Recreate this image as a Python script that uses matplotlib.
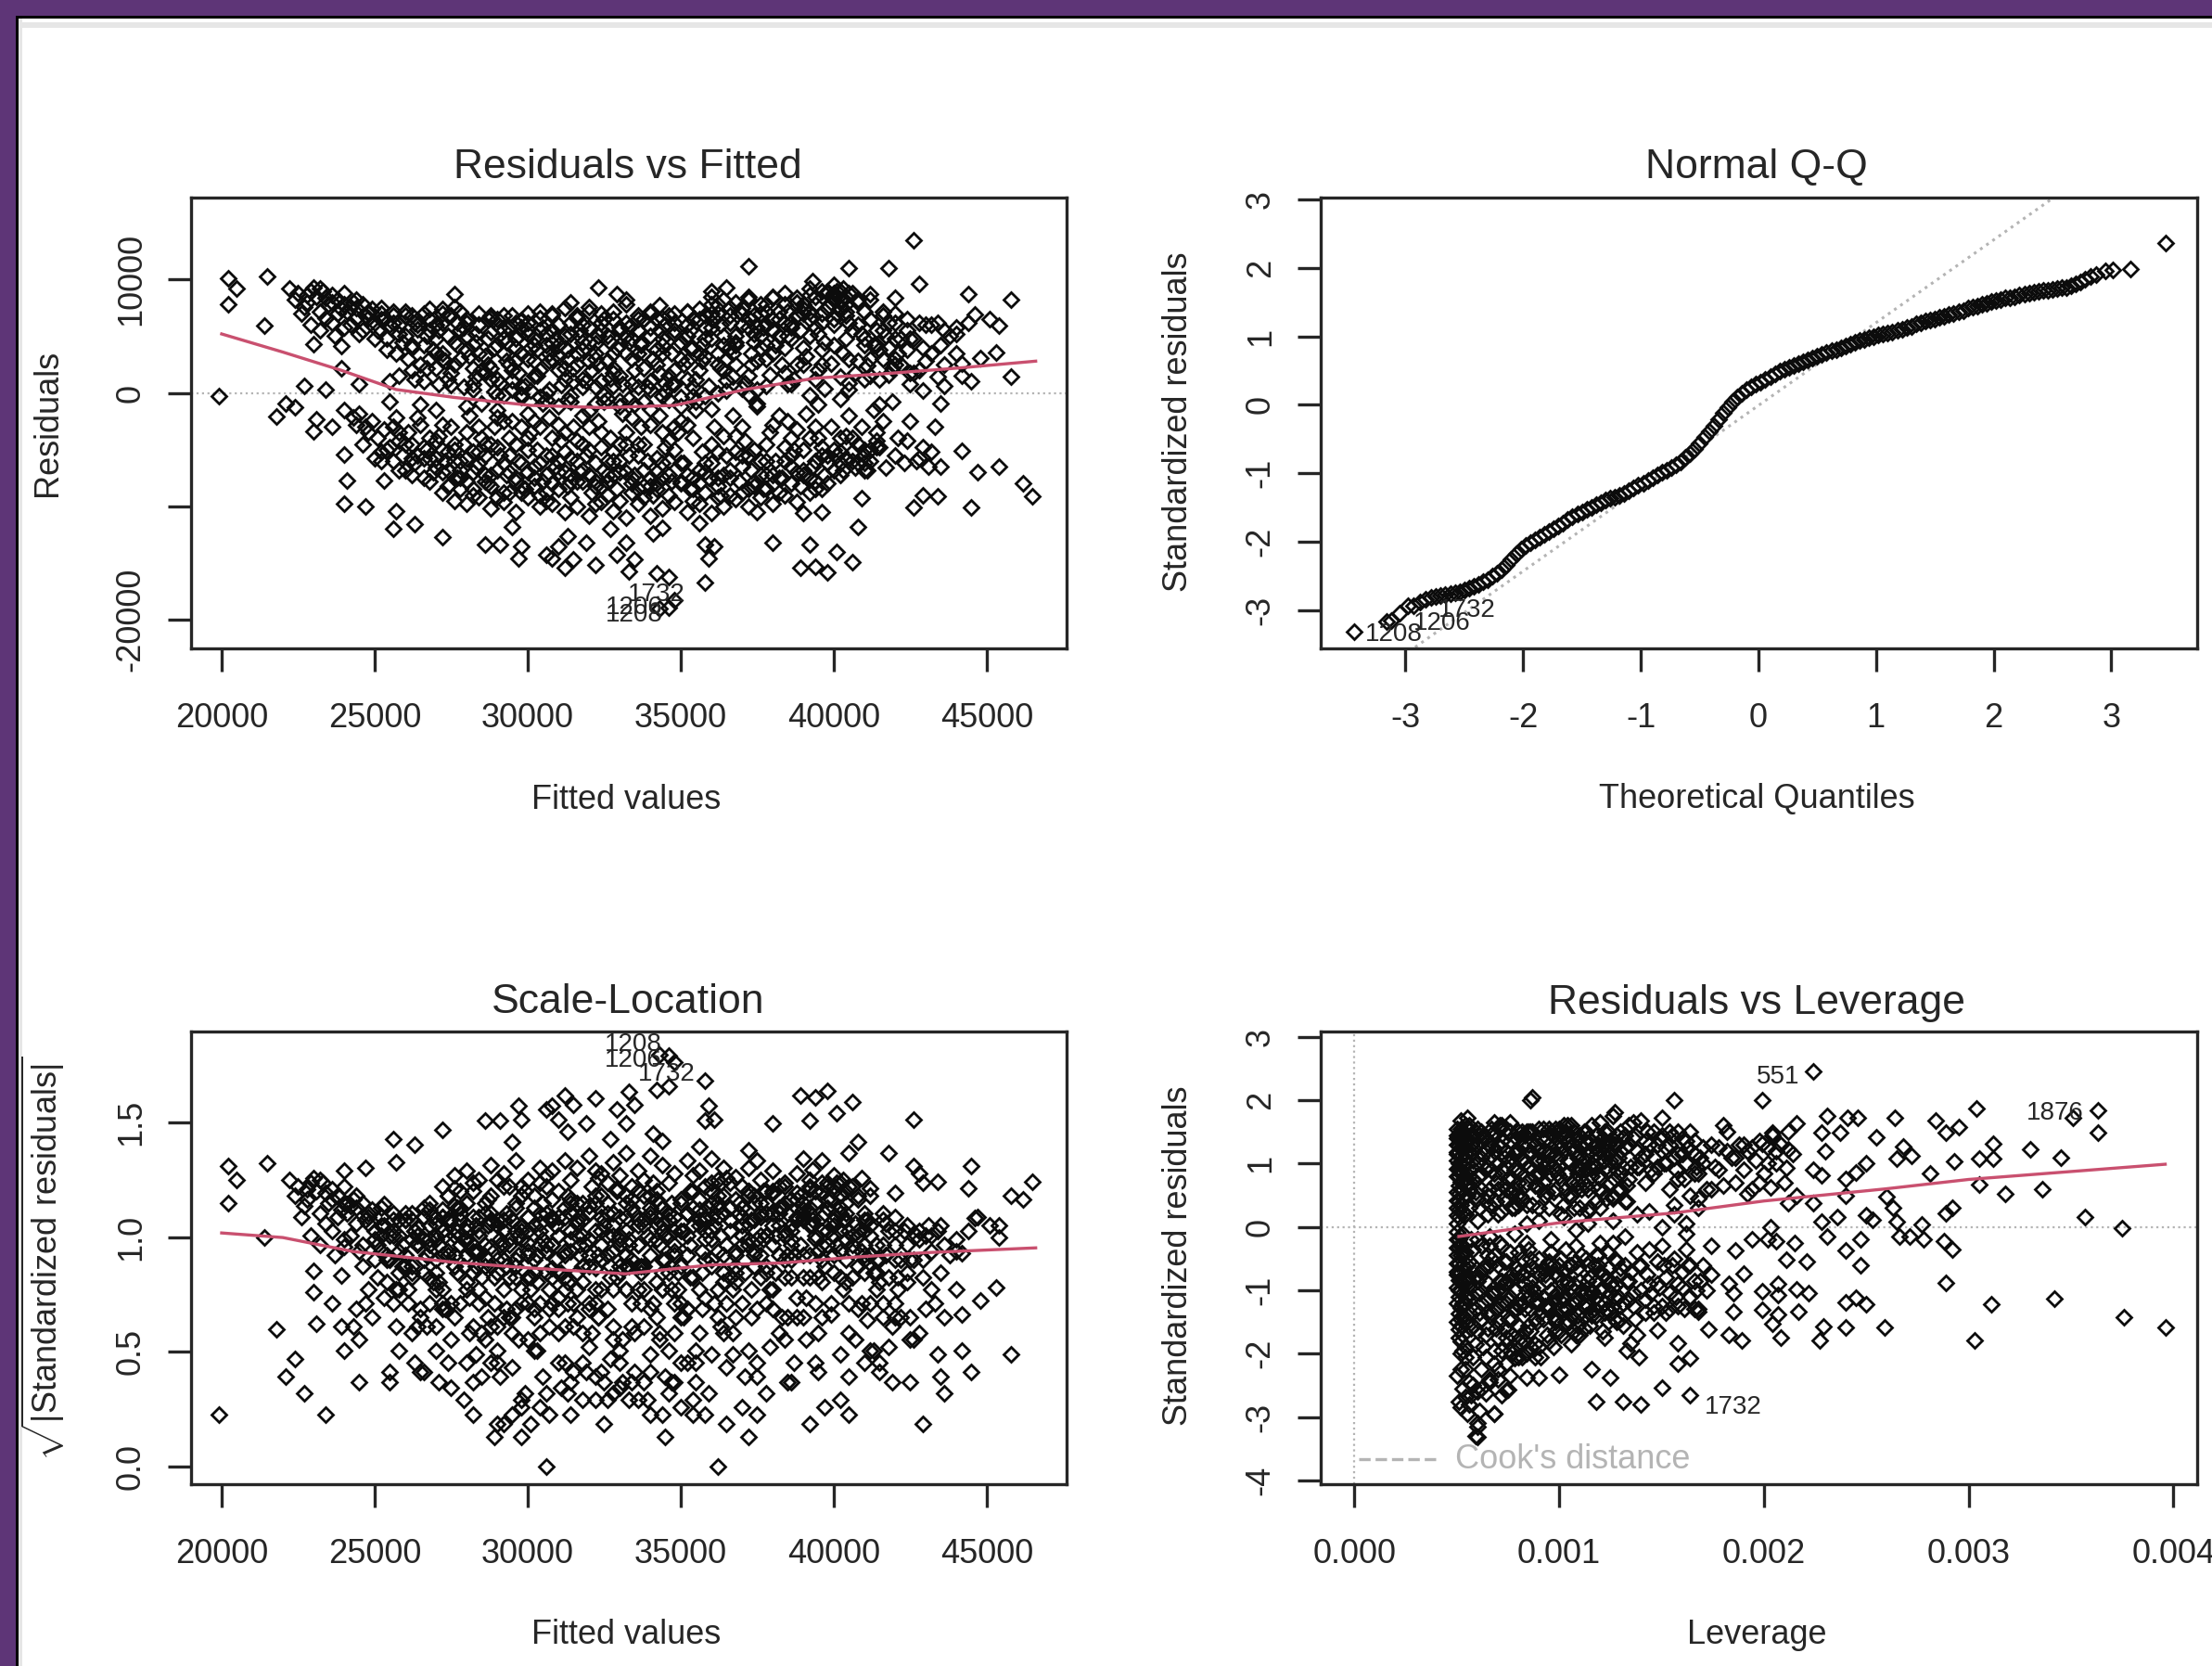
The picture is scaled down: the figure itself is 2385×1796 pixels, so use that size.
import numpy as np
import matplotlib
matplotlib.use('Agg')
import matplotlib.pyplot as plt
from matplotlib.patches import Rectangle

plt.rcParams['font.family'] = ['Liberation Sans', 'DejaVu Sans']
plt.rcParams['mathtext.fontset'] = 'custom'
plt.rcParams['mathtext.rm'] = 'Liberation Sans'

W, H = 2385, 1796

# fitted values and residuals, both in hundreds
fitted = [
    # scattered points read one by one
    202,205,202,214,215,199,426,372,405,418,428,444,458,454,451,446,453,448,442,458,436,429,420,412,323,329,314,343,276,365,360,393,
    442,447,454,462,465,445,434,429,426,409,408,396,390,380,392,401,406,389,394,398,356,358,361,359,358,346,342,327,332,329,335,333,
    319,313,310,306,308,315,312,322,298,297,291,286,295,272,256,263,257,240,247,253,241,240,341,344,375,218,221,224,227,230,231,234,236,230,239,239,245,255,
    346,343,348,
    # upper band
    222,225,228,230,231,233,235,236,238,240,241,243,244,246,247,249,250,252,253,255,
    226,229,232,234,237,239,242,245,248,251,254,256,258,260,262,264,266,268,270,272,
    257,259,261,263,265,267,269,271,273,275,277,279,281,283,285,287,289,291,293,295,
    258,262,266,270,274,278,282,286,290,294,298,302,306,310,314,318,322,326,330,334,
    296,298,300,302,304,306,308,310,312,314,316,318,320,322,324,326,328,330,332,334,
    336,338,340,342,344,346,348,350,352,354,356,358,360,362,364,366,368,370,372,374,
    376,378,380,382,384,386,388,390,392,394,396,398,400,402,404,406,408,410,412,414,
    416,418,420,422,424,426,428,430,432,434,436,438,440,442,444,336,340,344,348,352,
    270,274,278,283,288,292,297,301,305,309,313,317,321,325,329,333,337,341,345,349,
    353,357,361,365,369,373,377,381,385,389,393,397,401,405,409,413,417,421,425,429,
    262,268,272,276,280,284,288,292,296,300,304,308,312,316,320,324,328,332,336,340,
    344,348,352,356,360,364,368,372,376,380,384,388,392,396,400,404,408,412,416,420,
    400,401,402,403,404,405,399,398,396,394,392,390,386,382,378,374,370,366,362,358,
    284,288,293,298,303,308,313,318,323,328,333,338,343,348,353,358,363,368,373,378,
    224,227,229,232,234,236,238,240,242,244,246,248,250,252,254,256,258,260,262,264,
    266,268,270,272,274,276,278,280,282,284,286,288,290,292,294,296,298,300,302,304,
    306,308,310,312,314,316,318,320,322,324,326,328,330,332,334,336,338,340,342,344,
    346,348,350,352,354,356,358,360,362,364,366,368,370,372,374,376,378,380,382,384,
    386,388,390,392,394,396,398,400,402,404,406,408,410,412,414,416,418,420,422,424,
    263,267,271,275,279,283,287,291,295,299,303,307,311,315,319,323,327,331,335,339,
    343,347,351,355,359,363,367,371,375,379,383,387,391,395,399,403,407,411,415,419,
    272,277,282,287,292,297,302,307,312,317,322,327,332,337,342,347,352,357,362,367,
    375,380,385,390,395,400,405,410,415,420,425,430,435,440,280,290,300,310,320,330,
    # lower band
    240,243,245,247,249,251,253,255,257,259,261,263,265,267,269,271,273,275,277,279,
    281,283,285,287,289,291,293,295,297,299,301,303,305,307,309,311,313,315,317,319,
    321,323,325,327,329,331,333,335,337,339,341,343,345,347,349,351,353,355,357,359,
    361,363,365,367,369,371,373,375,377,379,381,383,385,387,389,391,393,395,397,399,
    401,403,405,407,409,411,413,415,417,419,421,423,425,427,429,431,433,435,246,252,
    258,262,266,270,274,278,282,286,290,294,298,302,306,310,314,318,322,326,330,334,
    338,342,346,350,354,358,362,366,370,374,378,382,386,390,394,398,402,406,410,414,
    268,272,276,280,284,288,292,296,300,304,308,312,316,320,324,328,332,336,340,344,
    244,248,252,256,260,264,268,272,276,280,284,288,292,296,300,304,308,312,316,320,
    324,328,332,336,340,344,348,352,356,360,364,368,372,376,380,384,388,392,396,400,
    404,408,412,416,420,424,428,432,256,260,264,268,272,276,280,284,288,292,296,300,
    304,308,312,316,320,324,328,332,336,340,344,348,352,356,360,364,368,372,376,380,
    384,388,392,396,400,404,408,412,250,254,258,262,266,270,274,278,282,286,290,294,
    298,302,306,310,314,318,322,326,330,334,338,342,346,350,354,358,362,366,370,374,
    378,382,386,390,394,398,402,406,410,414,270,280,290,300,310,320,330,340,350,360,
    # near zero
    255,265,275,285,295,305,315,325,335,345,355,365,375,385,395,405,415,425,435,445,
    289,292,295,298,301,304,307,313,318,325,328,333,340,345,350,354,358,365,372,375,392,397,402,405,
]
residuals = [
    101,92,78,59,103,-3,135,112,110,110,96,87,82,59,65,69,36,31,26,14,6,2,84,87,93,87,80,77,87,93,90,99,
    -51,-70,-65,-80,-91,-101,-91,-90,-101,-93,-118,-105,-106,-132,-134,-140,-149,-154,-153,-158,-115,-134,-135,-146,-167,-162,-159,-120,-132,-143,-147,-157,
    -132,-126,-135,-143,-146,-147,-154,-152,-135,-146,-134,-134,-118,-127,-120,-116,-104,-98,-100,-77,-77,-54,-124,-119,-105,-21,-9,-13,6,-34,-23,3,-30,43,41,22,8,10,
    -189,-190,-183,
    92,88,80,93,85,90,78,86,82,88,72,80,75,78,68,74,62,70,65,60,
    70,60,55,66,50,74,60,52,66,55,48,72,60,50,68,56,42,65,48,74,
    35,45,30,62,25,50,38,55,28,68,42,58,32,52,20,65,40,58,28,68,
    15,20,10,22,12,30,8,18,12,25,5,15,0,20,-3,12,5,-5,15,8,
    48,35,62,28,55,42,68,32,50,62,25,45,72,35,55,28,65,42,78,30,
    55,22,70,38,48,15,62,30,72,40,20,58,85,35,50,75,25,60,82,45,
    70,30,85,50,18,62,80,40,92,58,25,75,95,90,48,88,60,72,30,55,
    68,40,62,25,55,48,20,60,35,62,25,50,58,15,62,5,10,-3,8,12,
    60,50,72,45,68,35,50,40,58,48,38,55,20,65,40,58,45,30,60,42,
    55,42,65,30,72,35,58,42,72,55,68,45,70,30,52,42,50,35,18,40,
    40,30,35,25,50,60,22,48,28,52,20,30,12,35,45,10,22,50,35,50,
    35,52,28,65,48,20,42,15,50,65,40,25,72,38,60,72,28,15,30,48,
    85,90,82,92,78,88,80,88,70,78,65,70,58,72,60,52,70,40,70,32,
    35,12,45,58,38,55,30,60,50,18,45,65,55,20,40,48,60,45,25,42,
    82,76,90,72,84,62,70,58,76,66,55,70,48,65,38,62,52,68,42,60,
    70,55,35,62,68,45,55,65,42,60,32,54,65,48,58,40,64,56,48,66,
    52,44,60,40,52,68,38,58,44,62,50,35,55,62,48,65,35,58,66,42,
    68,55,45,60,65,35,68,58,78,42,62,50,75,58,68,40,78,55,65,78,
    48,68,78,50,85,62,90,65,75,68,55,82,48,65,42,55,62,30,48,38,
    12,22,8,18,5,14,25,9,20,6,15,28,7,22,10,25,13,8,20,5,
    18,8,25,12,6,22,14,9,28,16,25,12,32,20,26,35,18,24,12,22,
    30,62,22,48,55,18,42,35,22,50,30,45,35,42,25,35,50,28,25,35,
    58,35,50,25,52,42,62,42,38,25,48,28,42,35,38,42,30,42,28,58,
    -15,-22,-18,-30,-25,-40,-32,-48,-22,-55,-35,-62,-28,-50,-70,-38,-60,-30,-75,-45,
    -20,-65,-40,-80,-30,-55,-72,-25,-60,-85,-35,-50,-78,-22,-65,-42,-82,-30,-70,-55,
    -88,-25,-68,-40,-85,-18,-55,-72,-30,-60,-90,-20,-48,-78,-35,-62,-85,-15,-52,-75,
    -30,-90,-55,-20,-78,-42,-68,-12,-85,-35,-60,-75,-25,-50,-82,-18,-65,-40,-72,-30,
    -55,-68,-20,-66,-30,-68,-15,-48,-66,-8,-40,-62,-25,-60,-48,-65,-30,-65,-45,-60,
    -68,-45,-75,-58,-82,-68,-90,-55,-48,-40,-62,-75,-55,-70,-58,-45,-62,-78,-45,-88,
    -45,-70,-60,-80,-40,-62,-75,-90,-55,-82,-45,-88,-65,-50,-85,-55,-40,-52,-50,-35,
    -40,-50,-60,-35,-52,-72,-88,-45,-70,-90,-40,-52,-60,-30,-48,-60,-35,-85,-75,-35,
    -28,-35,-52,-30,-45,-22,-58,-28,-45,-58,-30,-45,-25,-75,-50,-30,-55,-70,-42,-72,
    -35,-72,-45,-55,-28,-62,-50,-28,-68,-45,-72,-38,-55,-72,-28,-48,-70,-40,-55,-68,
    -38,-62,-50,-25,-55,-42,-58,-52,-60,-68,-55,-78,-70,-50,-78,-62,-82,-62,-78,-40,
    -62,-80,-35,-78,-50,-82,-52,-70,-45,-82,-75,-30,-72,-80,-62,-38,-52,-85,-60,-72,
    -60,-32,-75,-48,-50,-58,-45,-60,-58,-50,-35,-72,-58,-42,-68,-85,-52,-72,-22,-88,
    -30,-25,-88,-28,-72,-20,-78,-60,-70,-22,-82,-58,-42,-25,-75,-88,-52,-68,-30,-50,
    -72,-20,-40,-68,-30,-80,-62,-40,-62,-48,-15,-12,-15,-18,-12,-16,-12,-14,-12,-14,
    -8,-10,7,-9,11,-9,10,-8,-10,9,-8,11,-9,8,-10,9,-10,8,-9,10,
    1,-2,3,-1,2,-4,3,-6,5,-2,6,-5,3,1,-4,5,-3,2,-1,3,-2,4,-5,3,
]
# bottom edge of the lower band and top edge of the upper band
edge_fitted = [
    272,276,280,284,288,292,296,300,304,308,312,316,320,324,328,332,336,340,344,348,
    352,356,360,364,368,372,376,380,384,388,392,396,274,282,290,298,306,314,322,330,
    338,346,354,362,370,378,386,394,402,410,278,286,294,302,310,318,326,334,342,350,
    258,262,266,270,274,278,282,286,290,294,298,302,306,310,314,318,322,326,330,334,
    338,342,346,350,354,358,362,366,370,374,378,382,386,390,394,398,402,406,410,414,
    228,232,236,240,244,248,252,256,260,264,268,272,276,280,284,288,292,296,300,304,
    308,312,316,320,324,328,332,336,340,344,348,352,356,360,364,368,372,376,380,384,
    388,392,396,400,404,408,412,416,420,424,428,432,436,440,360,366,372,378,384,390,
    282,290,298,306,314,322,330,338,346,354,362,370,378,386,394,402,410,418,426,434,
]
edge_residuals = [
    -88,-95,-98,-92,-102,-96,-105,-92,-100,-98,-105,-100,-108,-96,-104,-110,-98,-108,-102,-96,
    -105,-98,-106,-100,-94,-100,-92,-98,-90,-96,-88,-85,-82,-85,-92,-88,-95,-92,-98,-95,
    -92,-90,-95,-92,-88,-85,-80,-78,-72,-68,-75,-78,-70,-82,-85,-78,-90,-80,-85,-78,
    -42,-58,-48,-66,-52,-60,-70,-45,-68,-55,-82,-65,-72,-60,-78,-68,-82,-72,-60,-75,
    -68,-80,-72,-62,-85,-70,-82,-75,-65,-78,-60,-75,-55,-72,-60,-62,-52,-60,-55,-42,
    86,92,80,78,82,72,75,68,72,64,74,70,76,62,70,66,68,62,70,72,
    70,75,66,76,70,72,82,68,72,66,70,72,74,78,82,80,85,78,84,88,
    84,86,90,88,85,80,82,72,70,65,62,60,55,52,70,68,66,72,62,74,
    3,-2,-4,-6,-8,-9,-7,-8,-6,-3,0,4,6,8,12,14,12,16,18,14,
]
resid_sigma = 59

smooth_x = [200,220,239,257,276,301,325,348,371,394,417,441,466]
smooth_y = [52,36,20,3,-4,-11,-13,-11,3,13,17,22,28]
scale_smooth_x = [200,220,243,276,301,332,360,383,406,430,466]
scale_smooth_y = [1.018,0.998,0.937,0.89,0.865,0.84,0.879,0.887,0.912,0.932,0.953]

# normal Q-Q
theo_q = [-3.44,-3.16,-3.12,-3.05,-2.98,-2.93,-2.88,-2.83,-2.78,-2.74,-2.70,-2.66,-2.62,-2.58,
    -2.54,-2.50,-2.46,-2.42,-2.38,-2.34,-2.30,-2.26,-2.22,-2.18,-2.14,-2.10,-2.06,-2.02,-1.98,-1.94,
    -1.90,-1.86,-1.82,-1.78,-1.74,-1.70,-1.66,-1.62,-1.58,-1.54,-1.50,-1.46,-1.42,-1.38,-1.34,-1.30,
    -1.26,-1.22,-1.18,-1.14,-1.10,-1.06,-1.02,-.98,-.94,-.90,-.86,-.82,-.78,-.74,-.70,-.66,-.62,-.58,
    -.54,-.50,-.46,-.42,-.38,-.34,-.30,-.26,-.22,-.18,-.14,-.10,-.06,-.02,.02,.06,.10,.14,.18,.22,
    .26,.30,.34,.38,.42,.46,.50,.54,.58,.62,.66,.70,.74,.78,.82,.86,.90,.94,.98,1.02,1.06,1.10,
    1.14,1.18,1.22,1.26,1.30,1.34,1.38,1.42,1.46,1.50,1.54,1.58,1.62,1.66,1.70,1.74,1.78,1.82,1.86,1.90,
    1.94,1.98,2.02,2.06,2.10,2.14,2.18,2.22,2.26,2.30,2.34,2.38,2.42,2.46,2.50,2.54,2.58,2.62,2.66,2.70,
    2.74,2.78,2.82,2.87,2.95,3.01,3.16,3.46]
std_q = [-3.32,-3.17,-3.15,-3.05,-2.94,-2.93,-2.88,-2.84,-2.82,-2.80,-2.79,-2.77,-2.76,-2.75,
    -2.73,-2.71,-2.68,-2.65,-2.62,-2.58,-2.55,-2.50,-2.46,-2.41,-2.34,-2.26,-2.18,-2.11,-2.06,-2.01,
    -1.97,-1.93,-1.89,-1.85,-1.81,-1.77,-1.73,-1.68,-1.64,-1.60,-1.57,-1.53,-1.50,-1.46,-1.43,-1.39,
    -1.37,-1.35,-1.32,-1.29,-1.26,-1.22,-1.18,-1.15,-1.11,-1.07,-1.03,-.99,-.95,-.91,-.87,-.83,-.76,-.71,
    -.64,-.56,-.47,-.39,-.30,-.21,-.12,-.03,.05,.11,.17,.22,.26,.30,.33,.37,.41,.45,.49,.52,
    .55,.58,.60,.63,.66,.68,.71,.74,.76,.79,.81,.84,.86,.89,.91,.94,.96,.98,1.00,1.02,1.04,1.05,
    1.07,1.09,1.11,1.13,1.15,1.18,1.20,1.22,1.24,1.26,1.28,1.30,1.32,1.34,1.36,1.38,1.41,1.43,1.45,1.47,
    1.49,1.51,1.53,1.54,1.56,1.57,1.58,1.60,1.62,1.63,1.65,1.66,1.67,1.68,1.69,1.70,1.71,1.72,1.74,1.77,
    1.80,1.83,1.88,1.91,1.96,1.97,1.98,2.37]
qq_line_x = [-3.7, 3.7]
qq_line_y = [-4.49, 4.47]

# leverage (x 1e-5) and standardized residuals (x 100)
leverage = [
    50,50,50,50,50,50,50,50,50,50,50,50,51,51,51,51,51,51,51,51,
    51,51,51,51,52,52,52,52,52,52,52,52,52,52,52,52,52,52,53,53,
    53,53,53,53,53,53,53,53,54,54,54,54,54,54,54,55,55,55,55,55,
    50,51,52,53,54,55,56,57,58,59,60,61,62,64,66,68,70,72,74,76,
    56,58,60,62,64,66,68,70,72,74,76,78,80,82,84,86,88,90,92,94,
    57,59,61,63,65,67,69,71,73,75,77,79,81,83,85,87,89,91,93,95,
    96,98,100,102,104,106,108,110,112,114,116,118,120,122,124,126,128,130,132,134,
    97,99,101,103,105,107,109,111,113,115,117,119,121,123,125,127,129,131,133,135,
    136,138,140,142,144,146,148,150,152,154,156,158,160,162,164,166,168,170,172,174,
    176,178,180,182,184,186,188,190,192,194,196,198,200,202,204,206,208,210,212,214,
    56,58,60,62,64,66,68,70,72,74,76,78,80,82,84,86,88,90,92,94,
    57,59,61,63,65,67,69,71,73,75,77,79,81,83,85,87,89,91,93,95,
    96,98,100,102,104,106,108,110,112,114,116,118,120,122,124,126,128,130,132,134,
    97,99,101,103,105,107,109,111,113,115,117,119,121,123,125,127,129,131,133,135,
    136,138,140,142,144,146,148,150,152,154,156,158,160,162,164,166,168,170,172,174,
    60,66,72,78,84,90,96,102,108,114,120,126,132,138,144,150,156,162,168,174,
    54,58,62,66,70,74,78,82,86,90,94,98,102,106,110,114,118,122,126,130,
    54,58,62,66,70,74,78,82,86,90,94,98,102,106,110,114,118,122,126,130,
    50,52,54,56,58,60,62,64,66,68,70,72,74,76,78,80,82,84,86,88,
    90,92,94,96,98,100,102,104,106,108,110,112,114,116,118,120,122,124,126,128,
    51,53,55,57,59,61,63,65,67,69,71,73,75,77,79,81,83,85,87,89,
    91,93,95,97,99,101,103,105,107,109,111,113,115,117,119,121,123,125,127,129,
    50,53,56,59,62,65,68,71,74,77,80,83,86,89,92,95,98,101,104,107,
    110,113,116,119,122,125,128,131,134,137,140,143,146,149,152,155,158,161,164,167,
    130,134,138,142,146,150,154,158,162,166,170,174,178,182,186,190,194,198,202,206,
    50,52,54,56,58,60,62,64,66,68,70,72,74,76,78,80,82,84,86,88,
    90,92,94,96,98,100,102,104,106,108,110,112,114,116,118,120,122,124,126,128,
    51,53,55,57,59,61,63,65,67,69,71,73,75,77,79,81,83,85,87,89,
    91,93,95,97,99,101,103,105,107,109,111,113,115,117,119,121,123,125,127,129,
    50,53,56,59,62,65,68,71,74,77,80,83,86,89,92,95,98,101,104,107,
    110,113,116,119,122,125,128,131,134,137,140,143,146,149,152,155,158,161,164,167,
    52,54,56,58,60,62,64,66,68,70,72,74,76,78,80,82,84,86,88,90,
    54,60,66,72,78,84,90,96,102,108,114,120,126,132,138,144,150,156,162,168,
    50,50,50,50,50,50,50,50,51,51,51,51,51,51,52,52,52,52,52,52,
    52,55,58,61,64,67,70,73,76,79,82,85,88,91,94,97,100,103,106,109,
    112,115,118,121,124,127,130,133,136,139,142,145,148,151,154,157,160,163,166,169,
    52,55,58,61,64,67,70,73,76,79,82,85,88,91,94,97,100,103,106,109,
    112,115,118,121,124,127,130,133,136,139,142,145,148,151,154,157,160,163,166,169,
    53,56,59,62,65,68,71,74,77,80,83,86,89,92,95,98,101,104,107,110,
    56,60,64,68,72,76,80,84,88,92,96,100,104,108,112,116,120,124,128,132,
    224,87,156,199,127,55,304,284,289,295,363,351,363,330,345,312,312,305,293,281,305,318,336,357,375,292,289,
    288,292,278,277,271,266,265,260,263,253,250,247,240,247,231,228,236,240,240,228,
    289,311,342,376,396,303,259,240,240,245,250,229,227,222,216,207,199,207,199,217,207,204,208,185,185,189,183,173,168,
    221,211,215,206,203,202,194,186,190,183,
    158,148,164,158,139,135,125,116,100,90,84,78,68,60,60,75,118,131,140,150,164,
    231,241,246,264,216,204,228,237,255,268,272,265,250,245,230,212,199,224,211,203,192,212,224,216,180,
]
lev_resid = [
    155,130,105,80,55,30,5,-20,-45,-70,-95,-120,145,118,92,66,40,15,-32,-58,
    -84,-110,-136,-162,168,140,112,85,60,35,-15,-45,-72,-100,-128,-155,-180,-200,150,125,
    98,72,48,-10,-60,-90,-140,-170,135,75,20,-40,-110,-190,-225,155,100,50,-80,-150,
    -235,-275,-285,-255,-268,-295,-280,-265,-250,-330,-310,-290,-255,-262,-245,-295,-240,-265,-258,-235,
    160,120,155,85,140,60,165,100,135,40,165,90,120,150,70,200,130,155,95,140,
    95,55,30,115,20,90,40,125,65,105,30,140,50,100,130,35,85,60,120,30,
    150,90,155,120,50,160,95,145,70,115,160,40,165,130,90,175,145,60,125,160,
    55,125,20,85,135,30,110,60,90,30,125,80,105,45,135,75,110,140,40,95,
    165,120,168,70,130,150,95,172,125,60,110,75,140,100,50,115,85,125,60,130,
    95,125,65,150,110,70,130,90,120,60,105,135,85,125,145,100,130,70,150,115,
    -55,-110,-165,-30,-85,-140,-195,-60,-120,-175,-40,-100,-155,-205,-70,-130,-185,-50,-110,-170,
    -20,-80,-135,-190,-45,-105,-160,-25,-90,-145,-200,-65,-125,-180,-35,-95,-150,-205,-75,-130,
    -40,-110,-165,-70,-130,-185,-55,-115,-160,-85,-140,-45,-100,-175,-65,-125,-90,-145,-60,-115,
    -190,-75,-130,-35,-150,-90,-140,-45,-105,-155,-60,-120,-165,-80,-135,-50,-110,-155,-195,-70,
    -125,-170,-60,-115,-90,-135,-55,-125,-80,-105,-50,-125,-70,-35,-110,-85,-130,-60,-100,-75,
    10,-15,25,-10,5,30,-20,15,-5,25,-25,10,-15,20,-35,0,20,-10,30,-30,
    125,75,110,130,60,155,115,45,150,85,100,130,160,70,30,140,95,150,50,120,
    -120,-60,-145,-30,-175,-85,-130,-50,-165,-95,-125,-150,-110,-60,-170,-125,-85,-135,-95,-65,
    145,90,160,30,145,100,150,40,110,145,20,160,95,135,60,150,110,35,120,80,
    120,155,55,115,155,80,140,105,50,135,90,150,60,100,145,75,105,150,45,90,
    100,145,70,130,150,80,145,95,125,70,155,110,75,110,50,85,145,95,150,105,
    85,50,100,145,85,125,60,105,150,85,125,150,120,95,130,140,95,70,130,60,
    115,25,80,130,60,50,85,160,120,75,35,65,95,65,135,155,60,150,85,120,
    115,65,135,60,115,105,130,95,130,145,110,150,85,140,100,145,115,75,150,95,
    85,75,95,135,110,145,130,150,135,85,100,60,90,120,110,130,125,70,100,120,
    -75,-125,-85,-135,-35,-85,-120,-170,-60,-105,-130,-85,-55,-110,-175,-70,-120,-100,-50,-145,
    -120,-65,-130,-100,-145,-60,-115,-90,-140,-170,-85,-125,-60,-105,-140,-70,-120,-40,-95,-150,
    -175,-120,-110,-160,-130,-80,-65,-115,-50,-130,-85,-55,-115,-75,-130,-175,-90,-110,-65,-115,
    -75,-125,-55,-140,-105,-85,-150,-60,-120,-65,-100,-140,-80,-130,-45,-95,-130,-105,-145,-75,
    -150,-40,-85,-105,-70,-160,-45,-150,-120,-170,-40,-130,-85,-120,-145,-60,-165,-50,-85,-115,
    -135,-50,-100,-60,-120,-90,-55,-120,-85,-145,-100,-75,-125,-95,-135,-60,-90,-130,-60,-100,
    -225,-205,-245,-205,-260,-225,-205,-240,-215,-225,-195,-215,-195,-190,-205,-185,-200,-190,-205,-190,
    20,-20,35,-30,30,-25,10,-40,35,-30,5,30,-25,40,-40,25,-30,35,5,45,
    140,118,92,42,18,-8,-32,-58,128,80,52,28,-20,-100,155,125,100,72,-30,-85,
    135,65,105,145,120,155,130,45,150,120,130,150,65,140,115,95,110,150,125,70,
    135,95,115,55,130,105,150,65,140,95,115,90,130,100,150,90,115,125,135,110,
    -145,-60,-155,-105,-60,-135,-100,-160,-85,-120,-75,-155,-105,-135,-85,-60,-115,-130,-95,-155,
    -105,-135,-110,-75,-150,-110,-125,-85,-105,-60,-135,-105,-90,-60,-130,-110,-95,-60,-130,-85,
    -195,120,-185,135,-135,150,-85,60,-145,90,-165,115,-70,105,-180,115,-170,135,-165,95,
    60,45,90,120,90,55,70,150,105,70,85,135,160,60,105,80,120,115,105,145,
    245,204,200,200,181,173,187,168,149,158,184,173,149,122,110,131,108,108,104,84,67,52,60,15,-2,30,22,
    -22,-36,-19,4,-15,-15,9,48,30,11,19,-19,-37,-60,-15,9,15,49,75,81,
    -88,-122,-113,-142,-159,-179,-158,-158,-119,-112,-122,-157,-179,-104,-99,-90,-101,-108,-131,-134,-138,-153,-175,-134,-104,-179,-170,-162,-134,
    -54,-52,-26,-22,0,-19,-19,-37,-73,-90,
    -183,-163,-207,-215,-205,-183,-237,-224,-233,-237,-237,-207,-295,-332,-315,-257,-275,-275,-280,-254,-265,
    175,172,172,173,164,149,149,149,142,127,112,108,101,86,119,123,131,90,93,63,52,37,37,49,160,
]
lev_smooth_x = [51,101,156,200,259,300,344,396]
lev_smooth_y = [-15,7,22,41,60,75,86,99]

fit_ticks = [20000,25000,30000,35000,40000,45000]
fit_labels = ['20000','25000','30000','35000','40000','45000']

INK = '#262626'
RED = '#c9506f'
GREY = '#b4b4b4'


def fx(px):
    return px / W


def fy(px):
    return 1 - px / H


def make_axes(left, top, right, bottom, xlim, ylim):
    ax = fig.add_axes([fx(left), fy(bottom), (right - left) / W, (bottom - top) / H])
    ax.set_xlim(xlim)
    ax.set_ylim(ylim)
    for s in ax.spines.values():
        s.set_linewidth(2.4)
        s.set_color(INK)
    ax.tick_params(axis='x', length=18, width=2.4, color=INK, pad=24, labelsize=26, labelcolor=INK)
    ax.tick_params(axis='y', length=18, width=2.4, color=INK, pad=16, labelsize=26, labelcolor=INK)
    return ax


def points(ax, x, y):
    ax.plot(x, y, ls='none', marker='D', ms=8.4, mfc='none', mec='#0c0c0c', mew=2.0)


def set_y(ax, ticks, labels):
    ax.set_yticks(ticks)
    ax.set_yticklabels(labels, rotation=90, va='center')


def label(px, py, s, size=26, rot=0, color='#262626'):
    fig.text(fx(px), fy(py), s, fontsize=size, rotation=rot, ha='center', va='center', color=color)


fig = plt.figure(figsize=(W / 100, H / 100), dpi=100, facecolor='white')
fig.add_artist(Rectangle((0, fy(30)), 1, 6 / H, transform=fig.transFigure, fc='#e6e6e6', ec='none'))
fig.add_artist(Rectangle((fx(20), 0), 4 / W, 1, transform=fig.transFigure, fc='#e6e6e6', ec='none'))
fig.add_artist(Rectangle((0, fy(20)), 1, 3 / H, transform=fig.transFigure, fc='black', ec='none'))
fig.add_artist(Rectangle((fx(17), 0), 3 / W, fy(17), transform=fig.transFigure, fc='black', ec='none'))
fig.add_artist(Rectangle((0, fy(17)), 1, 17 / H, transform=fig.transFigure, fc='#5e3577', ec='none'))
fig.add_artist(Rectangle((0, 0), 17 / W, 1, transform=fig.transFigure, fc='#5e3577', ec='none'))

fit_arr = np.array(fitted + edge_fitted) * 100
res_arr = np.array(residuals + edge_residuals) * 100
std_arr = res_arr / 100 / resid_sigma

# residuals vs fitted
ax1 = make_axes(206, 213, 1150, 699, (19000, 47610), (-22530, 17224))
ax1.axhline(0, color=GREY, lw=1.6, ls=':')
points(ax1, fit_arr, res_arr)
ax1.plot(np.array(smooth_x) * 100, np.array(smooth_y) * 100, color=RED, lw=2.4)
ax1.set_xticks(fit_ticks)
ax1.set_xticklabels(fit_labels)
set_y(ax1, [-20000, -10000, 0, 10000], ['-20000', '', '0', '10000'])
ax1.text(33470, -19600, '1208', fontsize=20, ha='center', va='center', color='#262626')
ax1.text(33470, -18900, '1206', fontsize=20, ha='center', va='center', color='#262626')
ax1.text(34200, -17800, '1732', fontsize=20, ha='center', va='center', color='#262626')

# normal Q-Q
ax2 = make_axes(1424, 213, 2369, 699, (-3.72, 3.73), (-3.56, 3.03))
ax2.plot(qq_line_x, qq_line_y, color=GREY, lw=2.2, ls=':')
points(ax2, theo_q, std_q)
ax2.set_xticks([-3, -2, -1, 0, 1, 2, 3])
ax2.set_xticklabels(['-3', '-2', '-1', '0', '1', '2', '3'])
set_y(ax2, [-3, -2, -1, 0, 1, 2, 3], ['-3', '-2', '-1', '0', '1', '2', '3'])
ax2.text(-3.1, -3.35, '1208', fontsize=20, ha='center', va='center', color='#262626')
ax2.text(-2.69, -3.2, '1206', fontsize=20, ha='center', va='center', color='#262626')
ax2.text(-2.48, -3.0, '1732', fontsize=20, ha='center', va='center', color='#262626')

# scale-location
ax3 = make_axes(206, 1112, 1150, 1600, (19000, 47610), (-0.077, 1.896))
points(ax3, fit_arr, np.sqrt(np.abs(std_arr)))
ax3.plot(np.array(scale_smooth_x) * 100, scale_smooth_y, color=RED, lw=2.4)
ax3.set_xticks(fit_ticks)
ax3.set_xticklabels(fit_labels)
set_y(ax3, [0, 0.5, 1, 1.5], ['0.0', '0.5', '1.0', '1.5'])
ax3.text(33460, 1.84, '1208', fontsize=20, ha='center', va='center', color='#262626')
ax3.text(33460, 1.77, '1206', fontsize=20, ha='center', va='center', color='#262626')
ax3.text(34550, 1.71, '1732', fontsize=20, ha='center', va='center', color='#262626')

# residuals vs leverage
ax4 = make_axes(1424, 1112, 2369, 1600, (-0.000165, 0.004116), (-4.06, 3.085))
ax4.axhline(0, color=GREY, lw=1.6, ls=':')
ax4.axvline(0, color=GREY, lw=1.6, ls=':')
points(ax4, np.array(leverage) * 1e-5, np.array(lev_resid) / 100)
ax4.plot(np.array(lev_smooth_x) * 1e-5, np.array(lev_smooth_y) / 100, color=RED, lw=2.4)
ax4.set_xticks([0, 0.001, 0.002, 0.003, 0.004])
ax4.set_xticklabels(['0.000', '0.001', '0.002', '0.003', '0.004'])
set_y(ax4, [-4, -3, -2, -1, 0, 1, 2, 3], ['-4', '-3', '-2', '-1', '0', '1', '2', '3'])
ax4.text(0.00207, 2.37, '551', fontsize=20, ha='center', va='center', color='#262626')
ax4.text(0.00342, 1.79, '1876', fontsize=20, ha='center', va='center', color='#262626')
ax4.text(0.00185, -2.85, '1732', fontsize=20, ha='center', va='center', color='#262626')
ax4.plot([0.00002, 0.00042], [-3.67, -3.67], color=GREY, lw=2.4, ls='--')
ax4.text(0.00049, -3.67, "Cook's distance", fontsize=26, color='#b4b4b4', ha='left', va='center')

label(677, 181, 'Residuals vs Fitted', 32)
label(1894, 181, 'Normal Q-Q', 32)
label(677, 1081, 'Scale-Location', 32)
label(1894, 1081, 'Residuals vs Leverage', 32)
label(675, 862, 'Fitted values')
label(1894, 862, 'Theoretical Quantiles')
label(675, 1763, 'Fitted values')
label(1894, 1763, 'Leverage')
label(52, 456, 'Residuals', rot=90)
label(1271, 455, 'Standardized residuals', rot=90)
label(46, 1357, r'$\sqrt{|\mathrm{Standardized\ residuals}|}$', rot=90)
label(1271, 1354, 'Standardized residuals', rot=90)

fig.savefig('out.png', dpi=100)
